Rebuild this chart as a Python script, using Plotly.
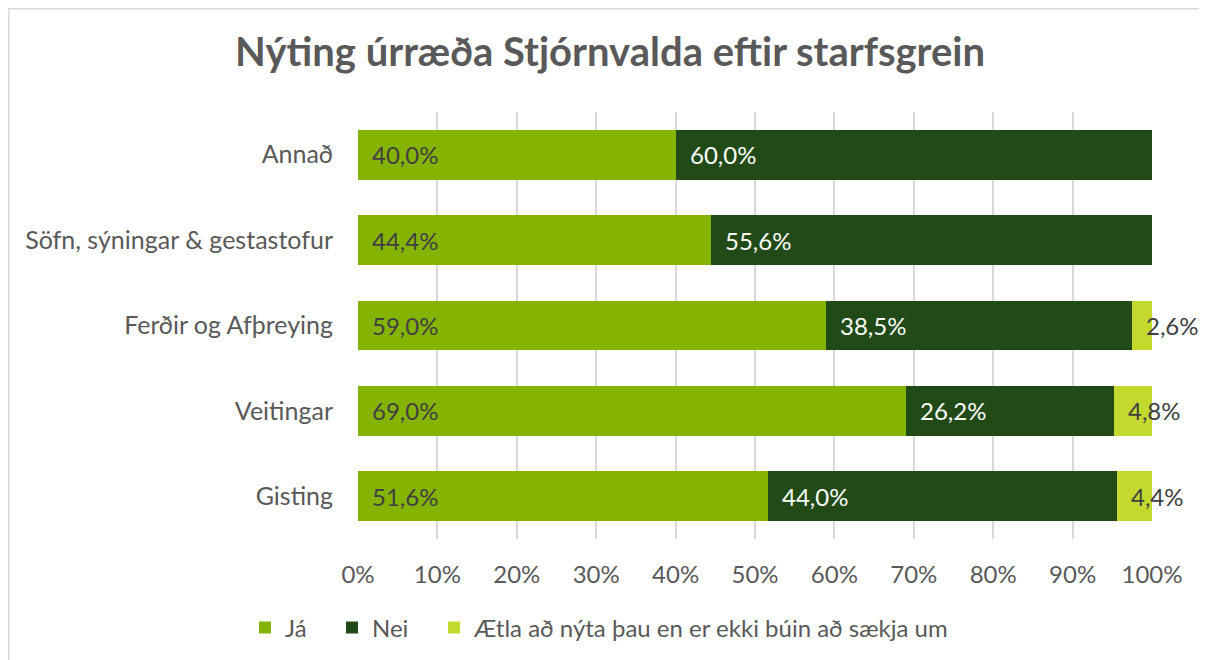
import plotly.graph_objects as go

categories = ["Gisting", "Veitingar", "Ferðir og Afþreying", "Söfn, sýningar & gestastofur", "Annað"]
ja = [51.6, 69.0, 59.0, 44.4, 40.0]
nei = [44.0, 26.2, 38.5, 55.6, 60.0]
aetla = [4.4, 4.8, 2.6, 0.0, 0.0]
series_names = ["Já", "Nei", "Ætla að nýta þau en er ekki búin að sækja um"]
colors = ["#84B400", "#214A16", "#C4D92E"]
label_colors = ["#404040", "#FFFFFF", "#404040"]
tick_vals = [0, 10, 20, 30, 40, 50, 60, 70, 80, 90, 100]
tick_text = ["0%", "10%", "20%", "30%", "40%", "50%", "60%", "70%", "80%", "90%", "100%"]

def fmt(v):
    return ("%.1f%%" % v).replace(".", ",")

FONT = "Lato, Open Sans, sans-serif"
OFF = 8  # browser body margin
W, H = 1207 - OFF, 660 - OFF
PL, PR, PT, PB = 358 - OFF, 1152 - OFF, 112 - OFF, 539 - OFF
pw, ph = PR - PL, PB - PT

legend_ids = ["legend", "legend2", "legend3"]
legend_text_x = [285, 372, 474]  # page px where legend text starts

fig = go.Figure()
series = [ja, nei, aetla]
for vals, name, col, lid in zip(series, series_names, colors, legend_ids):
    fig.add_trace(go.Bar(
        y=categories, x=vals, name=name, orientation="h",
        marker=dict(color=col, line=dict(width=0)),
        hoverinfo="x+name", legend=lid, showlegend=True,
    ))

# data labels at the base of each segment (Excel "inside base")
base = [0.0] * len(categories)
for vals, lc in zip(series, label_colors):
    for i, (c, v) in enumerate(zip(categories, vals)):
        if v > 0:
            fig.add_annotation(x=base[i], y=c, xref="x", yref="y", text=fmt(v),
                               showarrow=False, xanchor="left", yanchor="middle", xshift=12,
                               font=dict(color=lc, size=24, family=FONT))
        base[i] += v

legends = {}
for lid, tx in zip(legend_ids, legend_text_x):
    legends[lid] = dict(orientation="h", x=(tx - OFF - 40) / W, xref="container", xanchor="left",
                        y=1 - (628 - OFF) / H, yref="container", yanchor="middle",
                        font=dict(size=24, color="#595959"), bgcolor="rgba(0,0,0,0)",
                        visible=True)

fig.update_layout(
    barmode="stack",
    bargap=0.415,
    showlegend=True,
    width=W, height=H,
    margin=dict(l=PL, r=W - PR, t=PT, b=H - PB),
    paper_bgcolor="white", plot_bgcolor="white",
    font=dict(family=FONT, color="#595959", size=24),
    title=dict(text="<b>Nýting úrræða Stjórnvalda eftir starfsgrein</b>",
               x=(610 - OFF) / W, xref="container", y=1 - (52 - OFF) / H, yref="container",
               xanchor="center", yanchor="middle",
               font=dict(size=40, color="#595959", family=FONT)),
    xaxis=dict(range=[0, 100], tickvals=tick_vals, ticktext=tick_text,
               showgrid=True, gridcolor="#D9D9D9", gridwidth=1.5, zeroline=False,
               showline=False, ticks="", ticklabelstandoff=19, automargin=False,
               tickfont=dict(size=24, color="#595959"), fixedrange=True),
    yaxis=dict(showgrid=False, zeroline=False, showline=False,
               ticks="", ticklabelstandoff=24, automargin=False,
               tickfont=dict(size=25, color="#595959")),
    **legends,
)
fig.add_shape(type="rect", xref="paper", yref="paper",
              x0=(0.75 - PL) / pw, x1=(W + 10 - PL) / pw,
              y0=(PB - H - 10) / ph, y1=(PB - 0.75) / ph,
              line=dict(color="#D9D9D9", width=1.5), layer="below")
fig.write_html("out.html")
